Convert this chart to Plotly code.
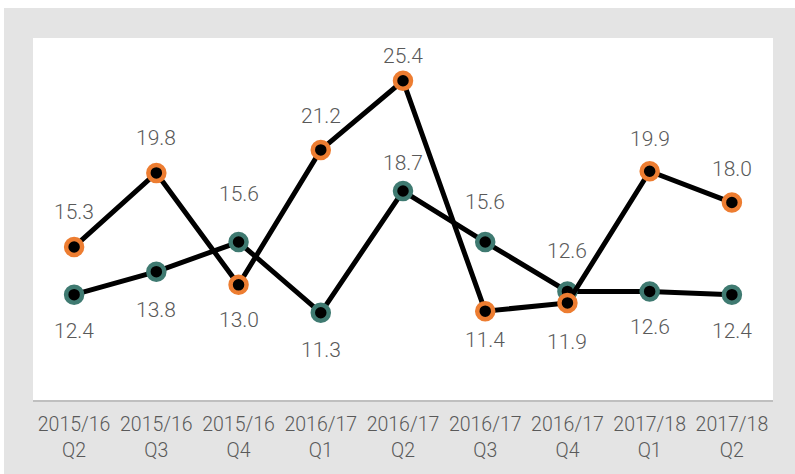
import plotly.graph_objects as go

# quarters on the x axis
quarters = ['2015/16<br>Q2', '2015/16<br>Q3', '2015/16<br>Q4', '2016/17<br>Q1', '2016/17<br>Q2',
            '2016/17<br>Q3', '2016/17<br>Q4', '2017/18<br>Q1', '2017/18<br>Q2']

# series values
orange_values = [15.3, 19.8, 13.0, 21.2, 25.4, 11.4, 11.9, 19.9, 18.0]
teal_values = [12.4, 13.8, 15.6, 11.3, 18.7, 15.6, 12.6, 12.6, 12.4]

# label shift in px (positive = above the point)
orange_shift = [35, 35, -35, 34, 25, -29, -39, 32, 34]
teal_shift = [-36, -38, 48, -37, 28, 40, 40, -36, -36]

ORANGE = '#ED7D31'
TEAL = '#3F7A71'
LABEL = '#595959'
FONT = 'Roboto'

fig = go.Figure()

for values, ring in [(teal_values, TEAL), (orange_values, ORANGE)]:
    fig.add_trace(go.Scatter(
        x=quarters,
        y=values,
        mode='lines+markers',
        line=dict(color='black', width=5),
        marker=dict(color='black', size=16, line=dict(color=ring, width=4.5)),
        hoverinfo='skip',
        showlegend=False
    ))

annotations = []
for values, shifts in [(orange_values, orange_shift), (teal_values, teal_shift)]:
    for q, v, s in zip(quarters, values, shifts):
        annotations.append(dict(
            x=q, y=v, text=f'{v:.1f}', showarrow=False, yshift=s,
            font=dict(family=FONT, size=21, color=LABEL, weight=300)
        ))

# white strips above and left of the grey panel
strips = [
    dict(type='rect', xref='paper', yref='paper', x0=-0.2, x1=1.2, y0=1.0829, y1=1.3,
         fillcolor='white', line=dict(width=0), layer='below'),
    dict(type='rect', xref='paper', yref='paper', x0=-0.2, x1=-0.0392, y0=-0.4, y1=1.3,
         fillcolor='white', line=dict(width=0), layer='below'),
]

fig.update_layout(
    width=795,
    height=474,
    margin=dict(l=33, r=22, t=38, b=74),
    paper_bgcolor='#E4E4E4',
    plot_bgcolor='white',
    font=dict(family=FONT, color=LABEL),
    annotations=annotations,
    shapes=strips,
    xaxis=dict(
        range=[-0.5, 8.5],
        showgrid=False,
        zeroline=False,
        showline=True,
        linecolor='#BFBFBF',
        linewidth=2,
        ticks='',
        ticklabelstandoff=6,
        tickfont=dict(family=FONT, size=19.5, color=LABEL, weight=300)
    ),
    yaxis=dict(
        range=[6, 28],
        showgrid=False,
        zeroline=False,
        showticklabels=False,
        showline=False
    )
)

fig.write_html("out.html", config={'displayModeBar': False},
               post_script="document.body.style.margin='0';")
